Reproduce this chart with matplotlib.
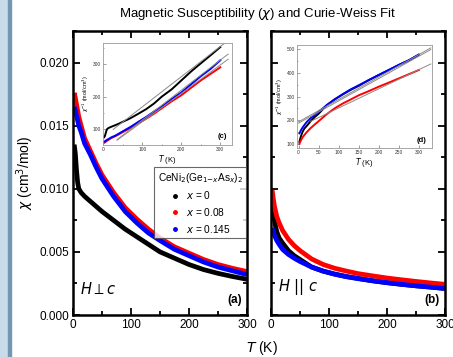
import numpy as np
import matplotlib
matplotlib.use("Agg")
import matplotlib.pyplot as plt
from matplotlib.lines import Line2D
from matplotlib.patches import Rectangle

plt.rcParams['font.family'] = ['Liberation Sans', 'DejaVu Sans']
plt.rcParams['mathtext.fontset'] = 'dejavusans'

# temperature grid (K) the curves were read at
T = np.array([2, 4, 6, 8, 10, 14, 20, 30, 40, 50, 70, 90, 110, 130, 150,
              175, 200, 225, 250, 275, 300])

# chi (cm^3/mol), H perp c
chi_a_x0 = np.array([0.0135, 0.0128, 0.0115, 0.0105, 0.0100, 0.0097, 0.0094,
                     0.0090, 0.0086, 0.0082, 0.0075, 0.0068, 0.0062, 0.0056,
                     0.0050, 0.0045, 0.0040, 0.0036, 0.0033, 0.00305, 0.00283])
chi_a_x008 = np.array([0.0176, 0.0172, 0.0167, 0.0162, 0.0157, 0.0150, 0.0140,
                       0.0130, 0.0120, 0.0111, 0.0097, 0.0085, 0.0076, 0.0068,
                       0.0061, 0.0054, 0.0049, 0.0044, 0.0040, 0.0037, 0.00344])
chi_a_x0145 = np.array([0.0165, 0.0162, 0.0158, 0.0154, 0.0150, 0.0145, 0.0136,
                        0.0127, 0.0117, 0.0108, 0.0094, 0.0082, 0.0073, 0.0065,
                        0.0059, 0.0052, 0.0047, 0.0042, 0.0038, 0.0035, 0.0032])

# chi (cm^3/mol), H || c
chi_b_x0 = np.array([0.0092, 0.0082, 0.0075, 0.0070, 0.0066, 0.0061, 0.0057,
                     0.0051, 0.0047, 0.0044, 0.0038, 0.00347, 0.00324, 0.00305,
                     0.0029, 0.00271, 0.00256, 0.00243, 0.00231, 0.00221, 0.0021])
chi_b_x008 = np.array([0.0099, 0.0092, 0.0086, 0.0082, 0.0078, 0.0073, 0.0067,
                       0.0060, 0.0055, 0.0051, 0.00444, 0.0040, 0.0037, 0.00348,
                       0.00328, 0.0031, 0.00293, 0.00279, 0.00266, 0.00254, 0.00243])
chi_b_x0145 = np.array([0.0069, 0.0066, 0.0063, 0.0061, 0.0059, 0.0056, 0.0052,
                        0.0048, 0.0045, 0.00424, 0.0038, 0.00348, 0.00323, 0.00303,
                        0.00288, 0.00271, 0.00256, 0.00243, 0.00231, 0.00221, 0.0021])

# Curie-Weiss fits: (C, theta, Tmin, Tmax)
cw_c = [(1.07, -80, 25, 315), (1.136, -38.6, 35, 320), (1.075, -36.5, 35, 320)]
cw_d = [(1.06, -205, 0, 330), (1.24, -212, 30, 330), (1.065, -200, 0, 330)]

colors = ['black', 'red', 'blue']
labels = ['$x$ = 0', '$x$ = 0.08', '$x$ = 0.145']
series_a = [chi_a_x0, chi_a_x008, chi_a_x0145]
series_b = [chi_b_x0, chi_b_x008, chi_b_x0145]

fig = plt.figure(figsize=(4.53, 3.57), dpi=100)
W, H = 453.0, 357.0

# slide decoration on the left
fig.patches.append(Rectangle((0, 0), 8 / W, 1, transform=fig.transFigure,
                             color='#c8dbe8', zorder=0))
fig.patches.append(Rectangle((8 / W, 0), 3 / W, 1, transform=fig.transFigure,
                             color='#7397b3', zorder=0))


def box(l, t, r, b):
    return [l / W, 1 - b / H, (r - l) / W, (b - t) / H]


def style_main(ax):
    ax.set_xlim(0, 300)
    ax.set_ylim(0, 0.0225)
    ax.set_xticks([0, 100, 200, 300])
    ax.set_xticks([50, 150, 250], minor=True)
    ax.set_yticks([0, 0.005, 0.010, 0.015, 0.020])
    ax.set_yticks([0.0025, 0.0075, 0.0125, 0.0175, 0.0225], minor=True)
    ax.tick_params(which='both', direction='in', top=True, right=True,
                   width=1.3, labelsize=8.5, color='black', pad=3)
    ax.tick_params(which='major', length=5)
    ax.tick_params(which='minor', length=3)
    for s in ax.spines.values():
        s.set_linewidth(1.8)


ax_a = fig.add_axes(box(73, 31, 247, 315))
ax_b = fig.add_axes(box(271, 31, 445, 315))

for chi, c in zip(series_a, colors):
    ax_a.plot(T, chi, color=c, lw=3.4, solid_capstyle='butt')
for chi, c in zip(series_b, colors):
    ax_b.plot(T, chi, color=c, lw=3.4, solid_capstyle='butt')

style_main(ax_a)
style_main(ax_b)
ax_a.set_yticklabels(['0.000', '0.005', '0.010', '0.015', '0.020'])
ax_b.set_yticklabels([])
ax_a.set_ylabel(r'$\chi$ (cm$^3$/mol)', fontsize=10, labelpad=2)

ax_a.text(0.04, 0.065, r'$H \perp c$', transform=ax_a.transAxes, fontsize=10.5,
          va='bottom', ha='left')
ax_b.text(0.04, 0.065, r'$H\ ||\ c$', transform=ax_b.transAxes, fontsize=10.5,
          va='bottom', ha='left')
ax_a.text(0.97, 0.03, '(a)', transform=ax_a.transAxes, fontsize=8.5,
          fontweight='bold', ha='right', va='bottom')
ax_b.text(0.97, 0.03, '(b)', transform=ax_b.transAxes, fontsize=8.5,
          fontweight='bold', ha='right', va='bottom')

handles = [Line2D([], [], ls='none', marker='o', ms=2.5, color=c) for c in colors]
leg = ax_a.legend(handles, labels, title=r'CeNi$_2$(Ge$_{1\mathrm{-}x}$As$_x$)$_2$',
                  loc='upper left', bbox_to_anchor=(0.466, 0.52),
                  fontsize=7.3, title_fontsize=7.3, frameon=True, fancybox=False,
                  handlelength=1.0, handletextpad=0.6, labelspacing=0.45,
                  borderpad=0.35, borderaxespad=0)
leg.get_frame().set_edgecolor('#444444')
leg.get_frame().set_linewidth(0.8)

fig.text(262 / W, 1 - 348 / H, r'$T$ (K)', ha='center', va='center', fontsize=10)
fig.text(258 / W, 1 - 14 / H, r'Magnetic Susceptibility ($\chi$) and Curie-Weiss Fit',
         ha='center', va='center', fontsize=9.5)


def style_inset(ax):
    ax.tick_params(which='both', direction='in', labelsize=3.5, pad=1.5,
                   color='#777777', width=0.5, labelcolor='#333333')
    ax.tick_params(which='major', length=2)
    ax.tick_params(which='minor', length=1)
    for s in ax.spines.values():
        s.set_linewidth(0.6)
        s.set_color('#999999')
    ax.set_xlabel(r'$T$ (K)', fontsize=5.5, labelpad=1)
    ax.set_ylabel(r'$\chi^{-1}$ (mol/cm$^3$)', fontsize=4, labelpad=1.5)


# inset (c)
ax_c = fig.add_axes(box(103, 43, 232, 145))
for chi, c in zip(series_a, colors):
    ax_c.plot(T, 1 / chi, color=c, lw=1.4)
for C, th, t0, t1 in cw_c:
    tt = np.array([t0, t1])
    ax_c.plot(tt, (tt - th) / C, color='#8a8a8a', lw=0.7)
ax_c.set_xlim(-1, 330)
ax_c.set_ylim(50, 366)
ax_c.set_xticks([0, 100, 200, 300])
ax_c.set_xticks([50, 150, 250], minor=True)
ax_c.set_yticks([100, 200, 300])
ax_c.set_yticks([150, 250, 350], minor=True)
style_inset(ax_c)
ax_c.text(0.96, 0.05, '(c)', transform=ax_c.transAxes, fontsize=5.5,
          fontweight='bold', ha='right', va='bottom')

# inset (d)
ax_d = fig.add_axes(box(297, 45, 432, 148))
for chi, c in zip(series_b, colors):
    ax_d.plot(T, 1 / chi, color=c, lw=1.4)
for C, th, t0, t1 in cw_d:
    tt = np.array([t0, t1])
    ax_d.plot(tt, (tt - th) / C, color='#8a8a8a', lw=0.7)
ax_d.set_xlim(-4, 333)
ax_d.set_ylim(83, 517)
ax_d.set_xticks([0, 50, 100, 150, 200, 250, 300])
ax_d.set_yticks([100, 200, 300, 400, 500])
ax_d.set_yticks([150, 250, 350, 450], minor=True)
style_inset(ax_d)
ax_d.text(0.96, 0.04, '(d)', transform=ax_d.transAxes, fontsize=5.5,
          fontweight='bold', ha='right', va='bottom')

fig.savefig('out.png', dpi=100)
